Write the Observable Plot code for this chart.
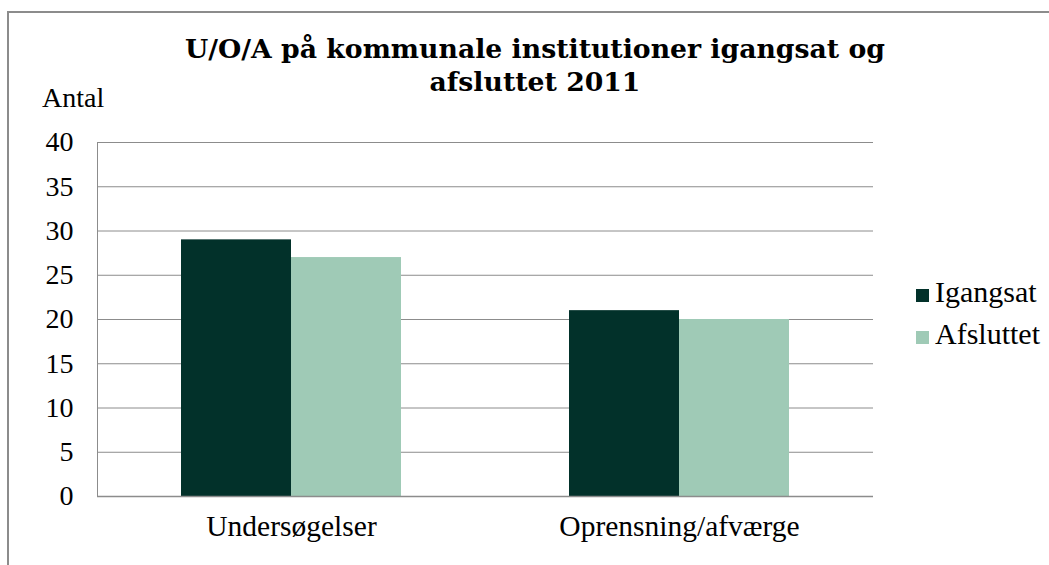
<!DOCTYPE html>
<html>
<head>
<meta charset="utf-8">
<script src="https://cdn.jsdelivr.net/npm/d3@7"></script>
<script src="https://cdn.jsdelivr.net/npm/@observablehq/plot@0.6"></script>
<style>
  html, body { margin: 0; padding: 0; background: #fff; }
  #wrap { position: relative; width: 1049px; height: 565px; overflow: hidden; font-family: "Liberation Serif", serif; color: #000; }
  #border { position: absolute; left: 7px; top: 11px; width: 1100px; height: 600px; border-left: 2px solid #8c8c8c; border-top: 2px solid #8c8c8c; box-sizing: border-box; }
  #title { position: absolute; left: 134px; top: 32px; width: 802px; text-align: center; font-family: "DejaVu Serif", serif; font-weight: bold; font-size: 26.7px; line-height: 33px; white-space: nowrap; }
  #ylabel { position: absolute; left: 42px; top: 84px; font-size: 28px; line-height: 28px; }
  #chart { position: absolute; left: 0; top: 0; }
  .leg { position: absolute; left: 916px; font-size: 30px; line-height: 30px; white-space: nowrap; }
  .sw { display: inline-block; width: 13px; height: 13px; margin-right: 6px; vertical-align: baseline; }
</style>
</head>
<body>
<div id="wrap">
  <div id="border"></div>
  <div id="chart"></div>
  <div id="title">U/O/A på kommunale institutioner igangsat og<br>afsluttet 2011</div>
  <div id="ylabel">Antal</div>
  <div id="legend"></div>
</div>
<script>
const categories = ["Undersøgelser", "Oprensning/afværge"];
const series = ["Igangsat", "Afsluttet"];
const igangsat = [29, 21];
const afsluttet = [27, 20];
const colors = ["#02312a", "#9fcab6"];
const yTicks = [0, 5, 10, 15, 20, 25, 30, 35, 40];

const data = [];
categories.forEach((c, i) => {
  data.push({category: c, series: series[0], value: igangsat[i]});
  data.push({category: c, series: series[1], value: afsluttet[i]});
});

const chart = Plot.plot({
  width: 1049,
  height: 565,
  marginLeft: 96,
  marginRight: 176,
  marginTop: 142,
  marginBottom: 69,
  style: {fontFamily: "'Liberation Serif', serif", fontSize: "28px", color: "#000", background: "transparent"},
  fx: {domain: categories, padding: 0, label: null},
  x: {domain: series, paddingInner: 0, paddingOuter: 0.76, axis: null},
  y: {domain: [0, 40], label: null},
  color: {domain: series, range: colors},
  marks: [
    Plot.gridY(yTicks, {stroke: "#8c8c8c", strokeOpacity: 1, strokeWidth: 1}),
    Plot.barY(data, {fx: "category", x: "series", y: "value", fill: "series"}),
    Plot.ruleY([0], {stroke: "#8c8c8c", strokeWidth: 1.5}),
    Plot.frame({anchor: "left", stroke: "#8c8c8c", strokeWidth: 1, facetAnchor: "left"}),
    Plot.axisY({ticks: yTicks, tickSize: 0, tickPadding: 24, fontSize: 28, label: null}),
    Plot.axisFx({anchor: "bottom", tickSize: 0, tickPadding: 19, fontSize: 29.5, label: null})
  ]
});
document.getElementById("chart").appendChild(chart);

const legend = document.getElementById("legend");
const legTops = [277, 319];
series.forEach((s, i) => {
  const d = document.createElement("div");
  d.className = "leg";
  d.style.top = legTops[i] + "px";
  const sw = document.createElement("span");
  sw.className = "sw";
  sw.style.background = colors[i];
  d.appendChild(sw);
  d.appendChild(document.createTextNode(s));
  legend.appendChild(d);
});
</script>
</body>
</html>
